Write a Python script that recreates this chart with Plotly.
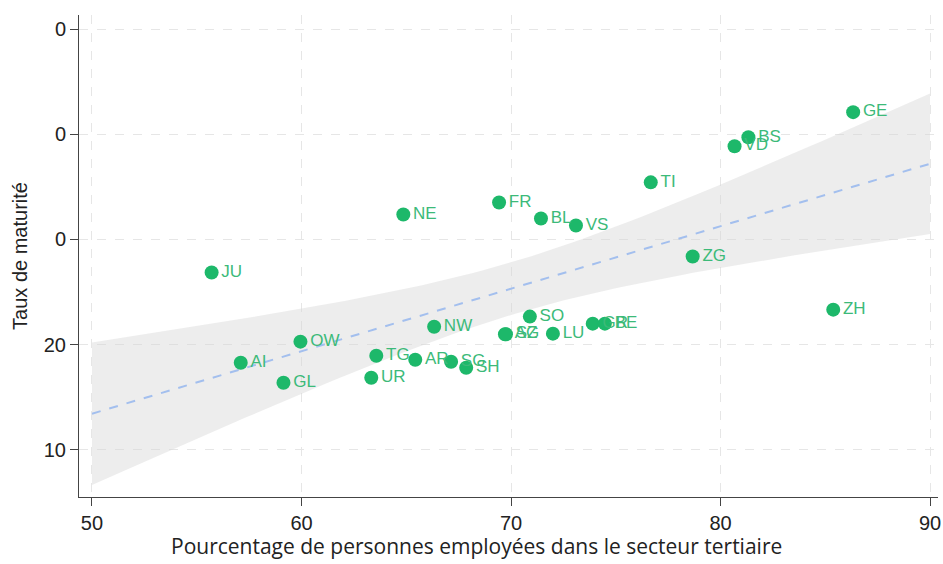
import numpy as np
import plotly.graph_objects as go

# Cantons: share of tertiary-sector employment vs. maturity rate
cantons = ["GE", "BS", "VD", "TI", "NE", "FR", "BL", "VS", "ZG", "JU", "ZH",
           "NW", "SO", "AG", "SZ", "LU", "GR", "BE", "OW", "AI", "TG", "AR",
           "SG", "SH", "UR", "GL"]
tertiaire = [86.33, 81.33, 80.67, 76.67, 64.86, 69.43, 71.43, 73.10, 78.67,
             55.71, 85.38, 66.33, 70.90, 69.71, 69.76, 72.00, 73.90, 74.48,
             59.95, 57.10, 63.57, 65.43, 67.14, 67.86, 63.33, 59.14]
maturite = [42.10, 39.71, 38.86, 35.43, 32.38, 33.52, 32.00, 31.33, 28.38,
            26.86, 23.33, 21.71, 22.67, 21.00, 21.00, 21.05, 22.00, 22.00,
            20.29, 18.29, 18.95, 18.57, 18.38, 17.81, 16.86, 16.38]

x_ticks = [50, 60, 70, 80, 90]
y_ticks = [10, 20, 30, 40, 50]
y_ticktext = ["10", "20", "0", "0", "0"]

# Linear fit with 95% confidence band for the mean prediction
x = np.array(tertiaire)
y = np.array(maturite)
n = len(x)
slope, intercept = np.polyfit(x, y, 1)
resid = y - (slope * x + intercept)
s = np.sqrt(np.sum(resid ** 2) / (n - 2))
t_crit = 2.064  # Student t, 0.975 quantile, 24 df
xf = np.linspace(50, 90, 100)
yf = slope * xf + intercept
se = s * np.sqrt(1 / n + (xf - x.mean()) ** 2 / np.sum((x - x.mean()) ** 2))
upper = yf + t_crit * se
lower = yf - t_crit * se

green = "#1db86a"

fig = go.Figure()
fig.add_trace(go.Scatter(
    x=np.concatenate([xf, xf[::-1]]), y=np.concatenate([upper, lower[::-1]]),
    fill="toself", fillcolor="rgba(215,215,215,0.45)", line=dict(width=0),
    hoverinfo="skip", showlegend=False))
fig.add_trace(go.Scatter(
    x=xf, y=yf, mode="lines",
    line=dict(color="#a3bfee", width=2, dash="dash"), showlegend=False))
fig.add_trace(go.Scatter(
    x=tertiaire, y=maturite, mode="markers+text", text=cantons,
    textposition="middle right",
    textfont=dict(family="Liberation Sans, Arial", size=17, color="#3cba79"),
    marker=dict(color=green, size=14), showlegend=False))

axis_common = dict(
    showline=True, linecolor="#444", linewidth=1,
    ticks="outside", ticklen=8, tickcolor="#444",
    showgrid=True, gridcolor="#e6e6e6", griddash="dash", gridwidth=1,
    zeroline=False, mirror=False, automargin=False,
    tickfont=dict(family="Liberation Sans, Arial", size=20, color="#222"),
)

fig.update_layout(
    width=943, height=564,
    margin=dict(l=79, r=5, t=15, b=67),
    plot_bgcolor="white", paper_bgcolor="white",
    xaxis=dict(range=[49.38, 90.38], tickvals=x_ticks, **axis_common),
    yaxis=dict(range=[5.53, 51.33], tickvals=y_ticks, ticktext=y_ticktext,
               title=dict(text="Taux de maturité",
                          font=dict(family="Liberation Sans, Arial", size=20, color="#222"),
                          standoff=10),
               **axis_common),
    annotations=[dict(
        text="Pourcentage de personnes employées dans le secteur tertiaire",
        xref="paper", yref="paper", x=0.463, y=-0.135,
        xanchor="center", yanchor="bottom", showarrow=False,
        font=dict(family="Open Sans", size=21, color="#222"))],
)

fig.write_html("out.html")
